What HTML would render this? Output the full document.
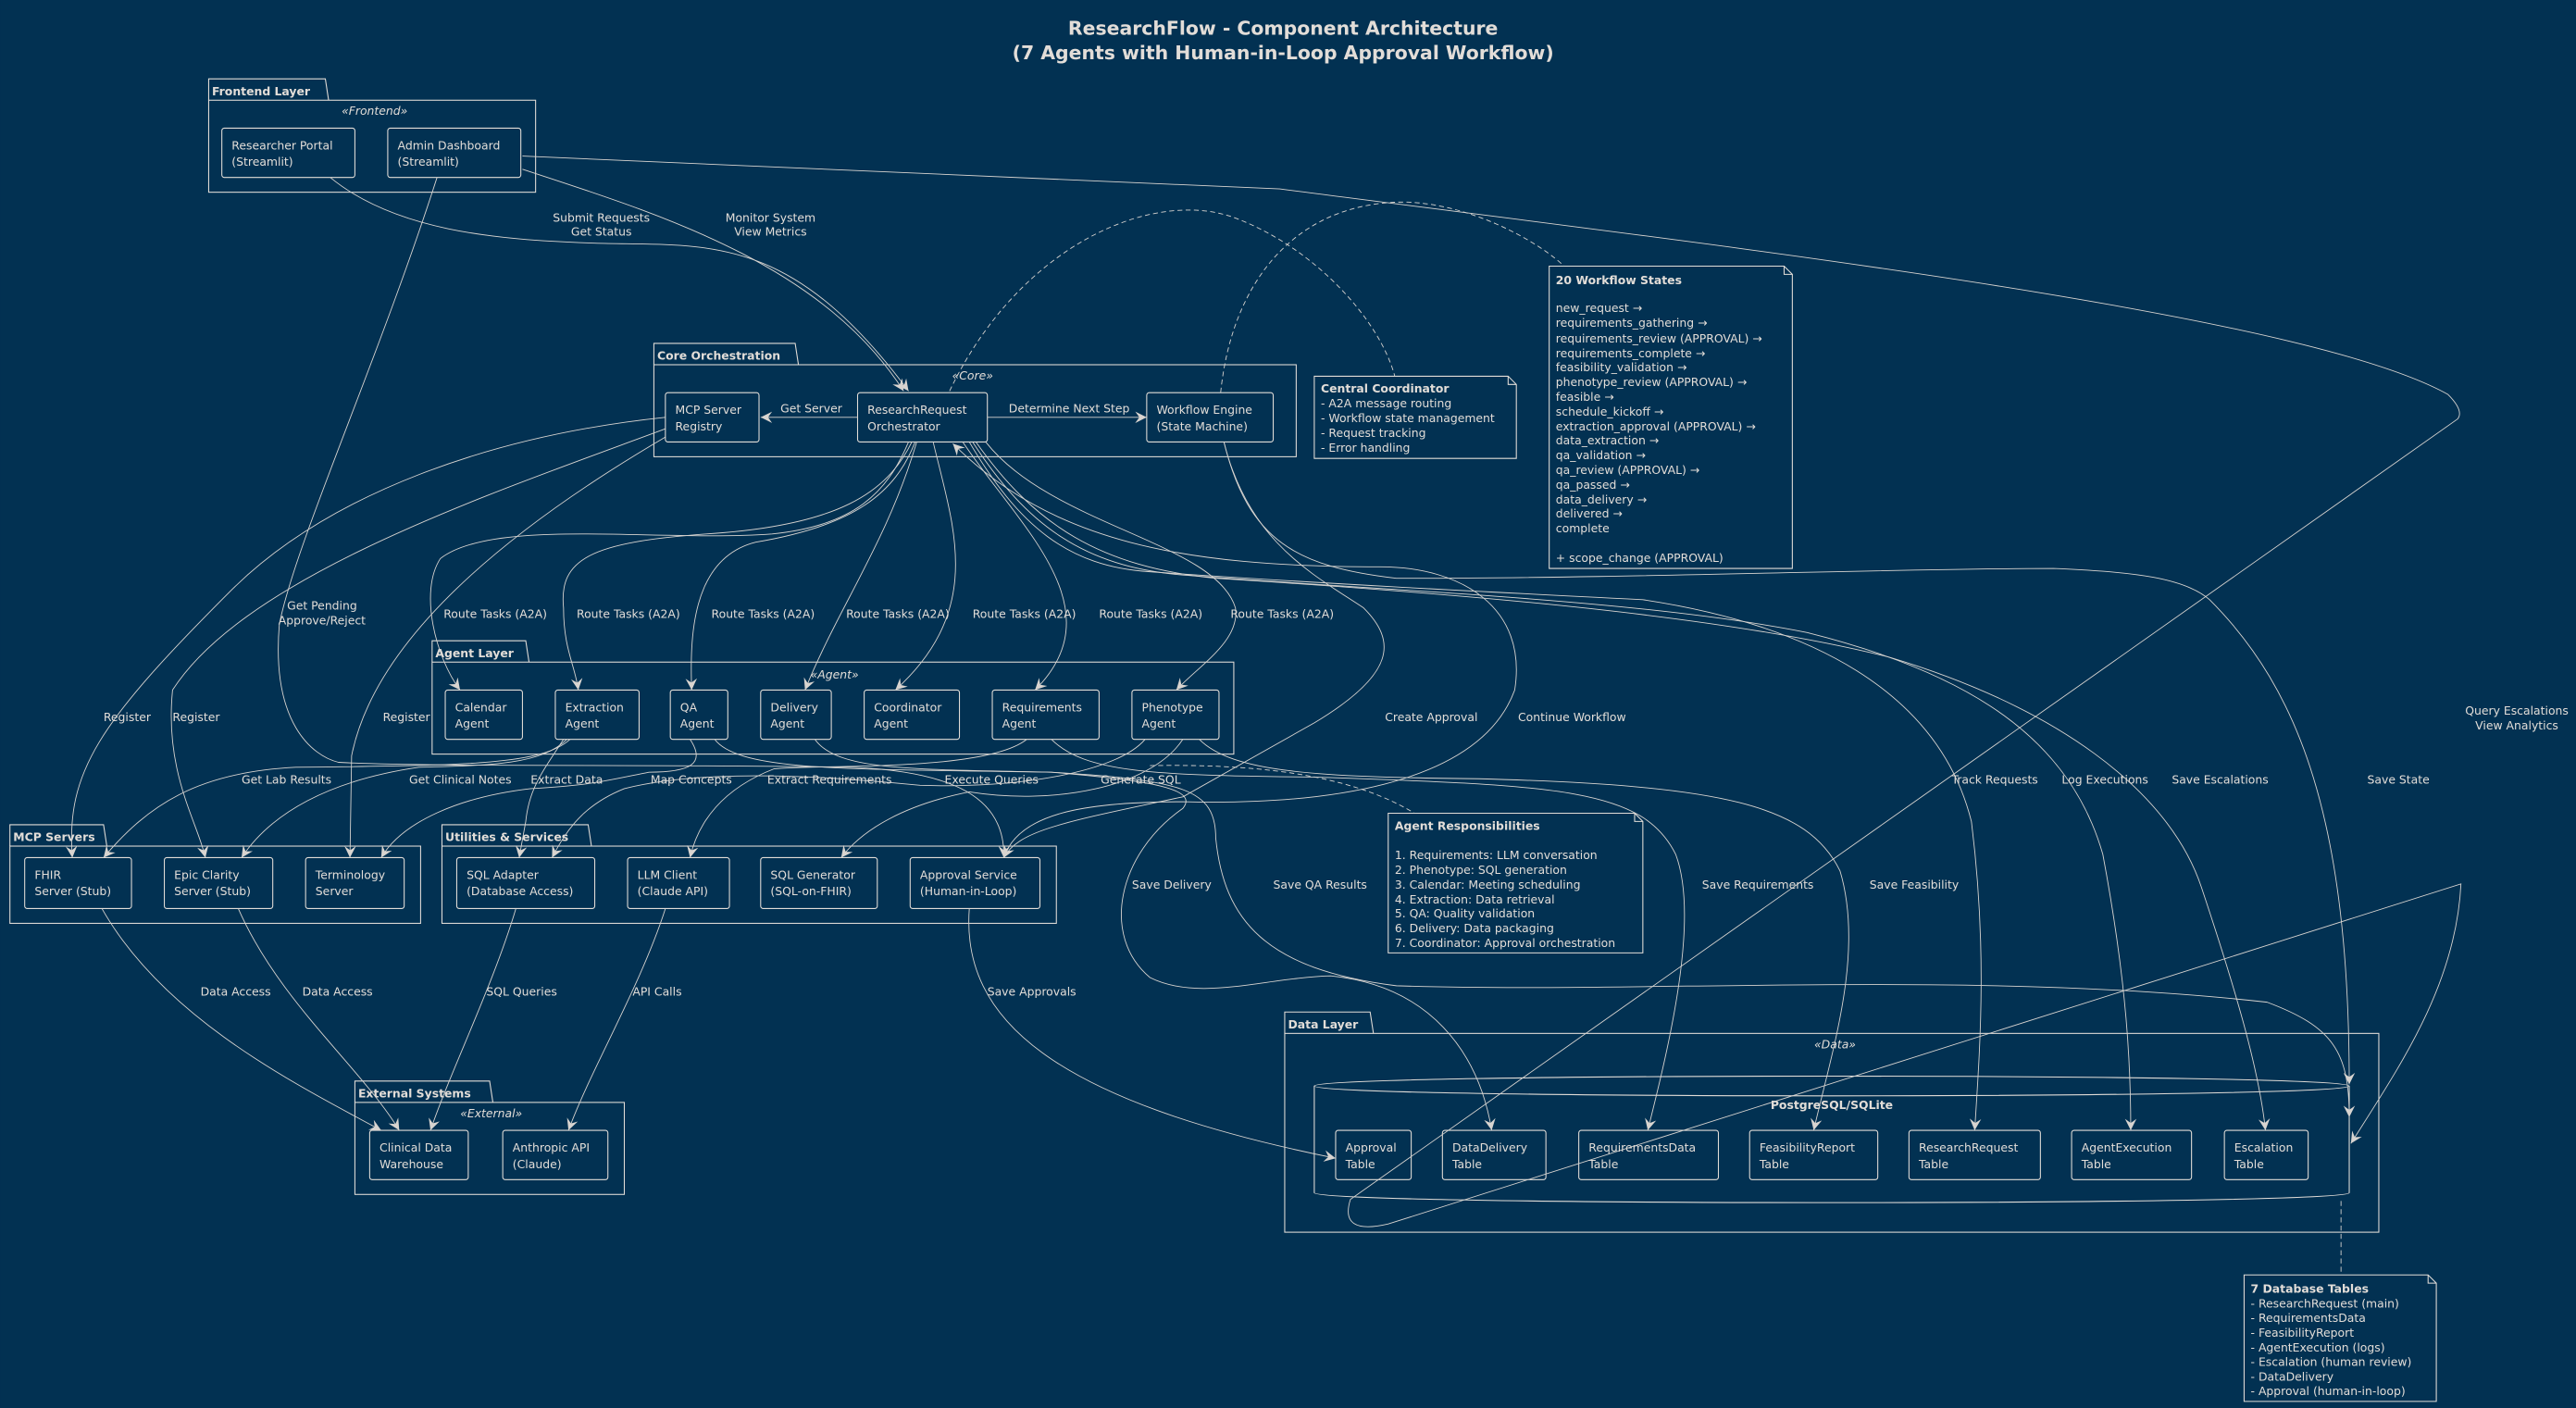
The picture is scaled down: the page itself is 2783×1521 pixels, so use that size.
<!DOCTYPE html>
<html><head><meta charset="utf-8"><style>
html,body{margin:0;padding:0;background:#023152;}
svg{display:block}
text{font-family:"DejaVu Sans","Liberation Sans",sans-serif;fill:#e2ddd8;font-size:7px}
.b{font-weight:bold}
.i{font-style:italic}
.s{fill:none;stroke:#e2ddd8;stroke-width:0.6}
.c{fill:none;stroke:#d8d4d0;stroke-width:0.5}
.d{fill:none;stroke:#d8d4d0;stroke-width:0.5;stroke-dasharray:3,2}
</style></head><body>
<svg width="2783" height="1521" viewBox="0 0 1568 857" xmlns="http://www.w3.org/2000/svg">
<defs>
<marker id="a" markerWidth="8" markerHeight="8" refX="7" refY="4" orient="auto" markerUnits="userSpaceOnUse">
<path d="M0,0.5 L7,4 L0,7.5 L2.5,4 z" fill="#d8d4d0"/>
</marker>
</defs>
<rect width="1568" height="857" fill="#023152"/>

<text x="781" y="21" text-anchor="middle" class="b" style="font-size:11.5px">ResearchFlow - Component Architecture</text>
<text x="781" y="36" text-anchor="middle" class="b" style="font-size:11.5px">(7 Agents with Human-in-Loop Approval Workflow)</text>

<!-- Packages -->
<g class="s">
<path d="M127,61 L127,48 L198,48 L200,61"/><rect x="127" y="61" width="199" height="56"/>
<path d="M398,222 L398,209 L484,209 L486,222"/><rect x="398" y="222" width="391" height="56"/>
<path d="M263,403 L263,390 L320,390 L322,403"/><rect x="263" y="403" width="488" height="56"/>
<path d="M6,515 L6,502 L63,502 L65,515"/><rect x="6" y="515" width="250" height="47"/>
<path d="M269,515 L269,502 L358,502 L360,515"/><rect x="269" y="515" width="374" height="47"/>
<path d="M216,671 L216,658 L298,658 L300,671"/><rect x="216" y="671" width="164" height="56"/>
<path d="M782,629 L782,616 L834,616 L836,629"/><rect x="782" y="629" width="666" height="121"/>
</g>
<text x="129" y="58" class="b">Frontend Layer</text>
<text x="400" y="219" class="b">Core Orchestration</text>
<text x="265" y="400" class="b">Agent Layer</text>
<text x="8" y="512" class="b">MCP Servers</text>
<text x="271" y="512" class="b">Utilities &amp; Services</text>
<text x="218" y="668" class="b">External Systems</text>
<text x="784" y="626" class="b">Data Layer</text>
<text x="228" y="70" text-anchor="middle" class="i">«Frontend»</text>
<text x="592" y="231" text-anchor="middle" class="i">«Core»</text>
<text x="508" y="413" text-anchor="middle" class="i">«Agent»</text>
<text x="299" y="680" text-anchor="middle" class="i">«External»</text>
<text x="1117" y="638" text-anchor="middle" class="i">«Data»</text>

<!-- Cylinder -->
<path class="s" d="M800,661 C800,653 1430,653 1430,661 L1430,726 C1430,734 800,734 800,726 Z"/>
<path class="s" d="M800,661 C800,669 1430,669 1430,661"/>
<text x="1115" y="675" text-anchor="middle" class="b">PostgreSQL/SQLite</text>

<!-- Boxes -->
<g class="s">
<rect x="135" y="78" width="81" height="30" rx="1.5"/>
<rect x="236" y="78" width="81" height="30" rx="1.5"/>
<rect x="405" y="239" width="57" height="30" rx="1.5"/>
<rect x="522" y="239" width="79" height="30" rx="1.5"/>
<rect x="698" y="239" width="77" height="30" rx="1.5"/>
<rect x="271" y="420" width="47" height="30" rx="1.5"/>
<rect x="338" y="420" width="51" height="30" rx="1.5"/>
<rect x="408" y="420" width="35" height="30" rx="1.5"/>
<rect x="463" y="420" width="43" height="30" rx="1.5"/>
<rect x="526" y="420" width="58" height="30" rx="1.5"/>
<rect x="604" y="420" width="65" height="30" rx="1.5"/>
<rect x="689" y="420" width="53" height="30" rx="1.5"/>
<rect x="15" y="522" width="65" height="31" rx="1.5"/>
<rect x="100" y="522" width="66" height="31" rx="1.5"/>
<rect x="186" y="522" width="60" height="31" rx="1.5"/>
<rect x="278" y="522" width="84" height="31" rx="1.5"/>
<rect x="382" y="522" width="62" height="31" rx="1.5"/>
<rect x="463" y="522" width="71" height="31" rx="1.5"/>
<rect x="554" y="522" width="79" height="31" rx="1.5"/>
<rect x="225" y="688" width="60" height="30" rx="1.5"/>
<rect x="306" y="688" width="64" height="30" rx="1.5"/>
<rect x="813" y="688" width="46" height="30" rx="1.5"/>
<rect x="878" y="688" width="63" height="30" rx="1.5"/>
<rect x="961" y="688" width="85" height="30" rx="1.5"/>
<rect x="1065" y="688" width="78" height="30" rx="1.5"/>
<rect x="1162" y="688" width="80" height="30" rx="1.5"/>
<rect x="1261" y="688" width="73" height="30" rx="1.5"/>
<rect x="1354" y="688" width="51" height="30" rx="1.5"/>
</g>
<g>
<text x="141" y="91">Researcher Portal</text><text x="141" y="101">(Streamlit)</text>
<text x="242" y="91">Admin Dashboard</text><text x="242" y="101">(Streamlit)</text>
<text x="411" y="252">MCP Server</text><text x="411" y="262">Registry</text>
<text x="528" y="252">ResearchRequest</text><text x="528" y="262">Orchestrator</text>
<text x="704" y="252">Workflow Engine</text><text x="704" y="262">(State Machine)</text>
<text x="277" y="433">Calendar</text><text x="277" y="443">Agent</text>
<text x="344" y="433">Extraction</text><text x="344" y="443">Agent</text>
<text x="414" y="433">QA</text><text x="414" y="443">Agent</text>
<text x="469" y="433">Delivery</text><text x="469" y="443">Agent</text>
<text x="532" y="433">Coordinator</text><text x="532" y="443">Agent</text>
<text x="610" y="433">Requirements</text><text x="610" y="443">Agent</text>
<text x="695" y="433">Phenotype</text><text x="695" y="443">Agent</text>
<text x="21" y="535">FHIR</text><text x="21" y="545">Server (Stub)</text>
<text x="106" y="535">Epic Clarity</text><text x="106" y="545">Server (Stub)</text>
<text x="192" y="535">Terminology</text><text x="192" y="545">Server</text>
<text x="284" y="535">SQL Adapter</text><text x="284" y="545">(Database Access)</text>
<text x="388" y="535">LLM Client</text><text x="388" y="545">(Claude API)</text>
<text x="469" y="535">SQL Generator</text><text x="469" y="545">(SQL-on-FHIR)</text>
<text x="560" y="535">Approval Service</text><text x="560" y="545">(Human-in-Loop)</text>
<text x="231" y="701">Clinical Data</text><text x="231" y="711">Warehouse</text>
<text x="312" y="701">Anthropic API</text><text x="312" y="711">(Claude)</text>
<text x="819" y="701">Approval</text><text x="819" y="711">Table</text>
<text x="884" y="701">DataDelivery</text><text x="884" y="711">Table</text>
<text x="967" y="701">RequirementsData</text><text x="967" y="711">Table</text>
<text x="1071" y="701">FeasibilityReport</text><text x="1071" y="711">Table</text>
<text x="1168" y="701">ResearchRequest</text><text x="1168" y="711">Table</text>
<text x="1267" y="701">AgentExecution</text><text x="1267" y="711">Table</text>
<text x="1360" y="701">Escalation</text><text x="1360" y="711">Table</text>
</g>

<!-- Notes -->
<g class="s">
<path d="M800,229 L918,229 L923,234 L923,279 L800,279 Z M918,229 L918,234 L923,234"/>
<path d="M943,162 L1086,162 L1091,167 L1091,346 L943,346 Z M1086,162 L1086,167 L1091,167"/>
<path d="M845,495 L995,495 L1000,500 L1000,580 L845,580 Z M995,495 L995,500 L1000,500"/>
<path d="M1366,776 L1478,776 L1483,781 L1483,853 L1366,853 Z M1478,776 L1478,781 L1483,781"/>
</g>
<text x="804" y="239" class="b">Central Coordinator</text>
<text x="804" y="248">- A2A message routing</text>
<text x="804" y="257">- Workflow state management</text>
<text x="804" y="266">- Request tracking</text>
<text x="804" y="275">- Error handling</text>

<text x="947" y="173" class="b">20 Workflow States</text>
<text x="947" y="190">new_request →</text>
<text x="947" y="199">requirements_gathering →</text>
<text x="947" y="208.5">requirements_review (APPROVAL) →</text>
<text x="947" y="217.5">requirements_complete →</text>
<text x="947" y="226">feasibility_validation →</text>
<text x="947" y="235">phenotype_review (APPROVAL) →</text>
<text x="947" y="244">feasible →</text>
<text x="947" y="253">schedule_kickoff →</text>
<text x="947" y="262">extraction_approval (APPROVAL) →</text>
<text x="947" y="270.5">data_extraction →</text>
<text x="947" y="279.5">qa_validation →</text>
<text x="947" y="288.5">qa_review (APPROVAL) →</text>
<text x="947" y="297.5">qa_passed →</text>
<text x="947" y="306.5">data_delivery →</text>
<text x="947" y="315">delivered →</text>
<text x="947" y="324">complete</text>
<text x="947" y="342">+ scope_change (APPROVAL)</text>

<text x="849" y="505" class="b">Agent Responsibilities</text>
<text x="849" y="523">1. Requirements: LLM conversation</text>
<text x="849" y="532">2. Phenotype: SQL generation</text>
<text x="849" y="541">3. Calendar: Meeting scheduling</text>
<text x="849" y="550">4. Extraction: Data retrieval</text>
<text x="849" y="558.5">5. QA: Quality validation</text>
<text x="849" y="567.5">6. Delivery: Data packaging</text>
<text x="849" y="576.5">7. Coordinator: Approval orchestration</text>

<text x="1370" y="787" class="b">7 Database Tables</text>
<text x="1370" y="796">- ResearchRequest (main)</text>
<text x="1370" y="804.5">- RequirementsData</text>
<text x="1370" y="813.5">- FeasibilityReport</text>
<text x="1370" y="822.5">- AgentExecution (logs)</text>
<text x="1370" y="831.5">- Escalation (human review)</text>
<text x="1370" y="840.5">- DataDelivery</text>
<text x="1370" y="849">- Approval (human-in-loop)</text>

<!-- Dashed note links -->
<path class="d" d="M578,238 C620,150 700,115 750,132 C800,150 840,195 849,229"/>
<path class="d" d="M743,239 C750,170 790,122 857,123 C900,125 940,150 952,162"/>
<path class="d" d="M700,466 C760,465 820,470 861,495"/>
<path class="d" d="M1425,731 L1425,776"/>

<!-- Connectors -->
<g class="c" marker-end="url(#a)">
<path d="M201,108 C240,140 300,146 362,148 C430,150 480,140 553,238"/>
<path d="M318,103 C400,130 500,160 550,238"/>
<path d="M318,95 L779,115 C1050,150 1400,190 1490,240 Q1500,250 1496,255 L822,730 Q815,752 845,745 L1498,538 C1495,600 1460,650 1431,696"/>
<path d="M266,108 C230,220 180,330 170,380 C165,440 190,460 206,464 C260,467 400,465 520,467 C580,470 612,485 611,522"/>
<path d="M522,254 L463,254"/>
<path d="M601,254 L698,254"/>
<path d="M405,254 C300,265 200,300 140,360 C60,440 40,470 44,522"/>
<path d="M405,261 C300,300 150,350 105,420 C100,470 120,500 125,522"/>
<path d="M405,266 C330,310 230,380 214,460 L213,522"/>
<path d="M553,269 C540,300 520,320 470,325 C400,330 300,315 268,340 C255,360 265,400 280,420"/>
<path d="M555,269 C540,300 510,320 430,325 C360,330 340,340 343,370 C343,395 350,405 352,420"/>
<path d="M557,269 C545,300 520,320 460,330 C420,340 420,390 421,420"/>
<path d="M558,269 C540,330 510,370 490,420"/>
<path d="M568,269 C580,320 600,370 545,420"/>
<path d="M586,269 C620,320 680,370 630,420"/>
<path d="M600,269 C640,320 740,330 752,370 C755,390 730,405 716,420"/>
<path d="M745,269 C760,330 790,345 850,352 C1000,352 1150,346 1250,346 C1300,348 1330,352 1345,365 C1400,420 1430,500 1430,660"/>
<path d="M590,269 C620,320 650,345 700,348 C800,355 900,360 1000,365 C1100,380 1180,420 1200,500 C1210,580 1205,640 1202,688"/>
<path d="M592,269 C625,320 660,345 720,350 C850,360 1000,365 1100,385 C1200,410 1260,450 1280,520 C1295,600 1297,650 1297,688"/>
<path d="M594,269 C630,320 670,345 740,352 C900,362 1050,375 1150,400 C1250,430 1320,480 1340,540 C1360,600 1375,650 1379,688"/>
<path d="M347,450 C330,465 290,466 180,467 C120,470 90,490 63,522"/>
<path d="M345,450 C330,465 300,466 255,467 C200,475 165,495 147,522"/>
<path d="M343,450 C330,470 322,480 320,500 L316,522"/>
<path d="M420,450 C430,465 420,470 395,470 C370,475 360,478 323,480 C280,485 245,500 232,522"/>
<path d="M625,450 C600,470 500,465 471,468 C440,480 425,500 420,522"/>
<path d="M697,450 C680,470 620,480 560,478 C480,470 420,470 380,480 C355,490 345,505 336,522"/>
<path d="M720,450 C700,480 640,490 590,482 C550,490 525,505 512,522"/>
<path d="M745,269 C760,330 800,350 830,370 C850,390 850,410 800,440 L720,485 C650,500 620,505 611,522"/>
<path d="M611,522 C620,495 660,488 720,488 C800,490 900,480 922,420 C930,370 890,345 840,345 C720,345 640,330 580,270"/>
<path d="M640,450 C660,470 700,472 800,473 C950,478 1000,480 1020,520 C1035,560 1015,640 1003,688"/>
<path d="M730,450 C750,470 800,473 900,474 C1050,478 1100,490 1120,530 C1135,580 1115,640 1104,688"/>
<path d="M496,450 C510,470 560,468 640,470 C700,475 730,480 720,492 C680,520 670,570 700,595 C730,610 770,595 810,594 C870,600 900,640 908,688"/>
<path d="M435,450 C450,470 520,468 640,470 C720,475 740,480 740,510 C745,560 770,590 850,600 C1000,605 1200,590 1380,610 C1420,625 1430,640 1430,680"/>
<path d="M62,553 C100,620 180,660 232,688"/>
<path d="M145,553 C170,610 220,650 243,688"/>
<path d="M314,553 C300,600 275,650 262,688"/>
<path d="M405,553 C390,600 360,650 346,688"/>
<path d="M590,553 C585,620 640,670 813,705"/>
</g>

<!-- Connector labels -->
<text x="366" y="237" text-anchor="middle"></text>
<text x="366" y="135" text-anchor="middle">Submit Requests</text>
<text x="366" y="143.5" text-anchor="middle">Get Status</text>
<text x="469" y="135" text-anchor="middle">Monitor System</text>
<text x="469" y="143.5" text-anchor="middle">View Metrics</text>
<text x="475" y="251">Get Server</text>
<text x="614" y="251">Determine Next Step</text>
<text x="196" y="371" text-anchor="middle">Get Pending</text>
<text x="196" y="380" text-anchor="middle">Approve/Reject</text>
<text x="270" y="376">Route Tasks (A2A)</text>
<text x="351" y="376">Route Tasks (A2A)</text>
<text x="433" y="376">Route Tasks (A2A)</text>
<text x="515" y="376">Route Tasks (A2A)</text>
<text x="592" y="376">Route Tasks (A2A)</text>
<text x="669" y="376">Route Tasks (A2A)</text>
<text x="749" y="376">Route Tasks (A2A)</text>
<text x="63" y="439">Register</text>
<text x="105" y="439">Register</text>
<text x="233" y="439">Register</text>
<text x="843" y="439">Create Approval</text>
<text x="924" y="439">Continue Workflow</text>
<text x="1532" y="435" text-anchor="middle">Query Escalations</text>
<text x="1532" y="444" text-anchor="middle">View Analytics</text>
<text x="147" y="477">Get Lab Results</text>
<text x="249" y="477">Get Clinical Notes</text>
<text x="323" y="477">Extract Data</text>
<text x="396" y="477">Map Concepts</text>
<text x="467" y="477">Extract Requirements</text>
<text x="575" y="477">Execute Queries</text>
<text x="670" y="477">Generate SQL</text>
<text x="1188" y="477">Track Requests</text>
<text x="1255" y="477">Log Executions</text>
<text x="1322" y="477">Save Escalations</text>
<text x="1441" y="477">Save State</text>
<text x="689" y="541">Save Delivery</text>
<text x="775" y="541">Save QA Results</text>
<text x="1036" y="541">Save Requirements</text>
<text x="1138" y="541">Save Feasibility</text>
<text x="122" y="606">Data Access</text>
<text x="184" y="606">Data Access</text>
<text x="296" y="606">SQL Queries</text>
<text x="385" y="606">API Calls</text>
<text x="601" y="606">Save Approvals</text>
</svg>
</body></html>
